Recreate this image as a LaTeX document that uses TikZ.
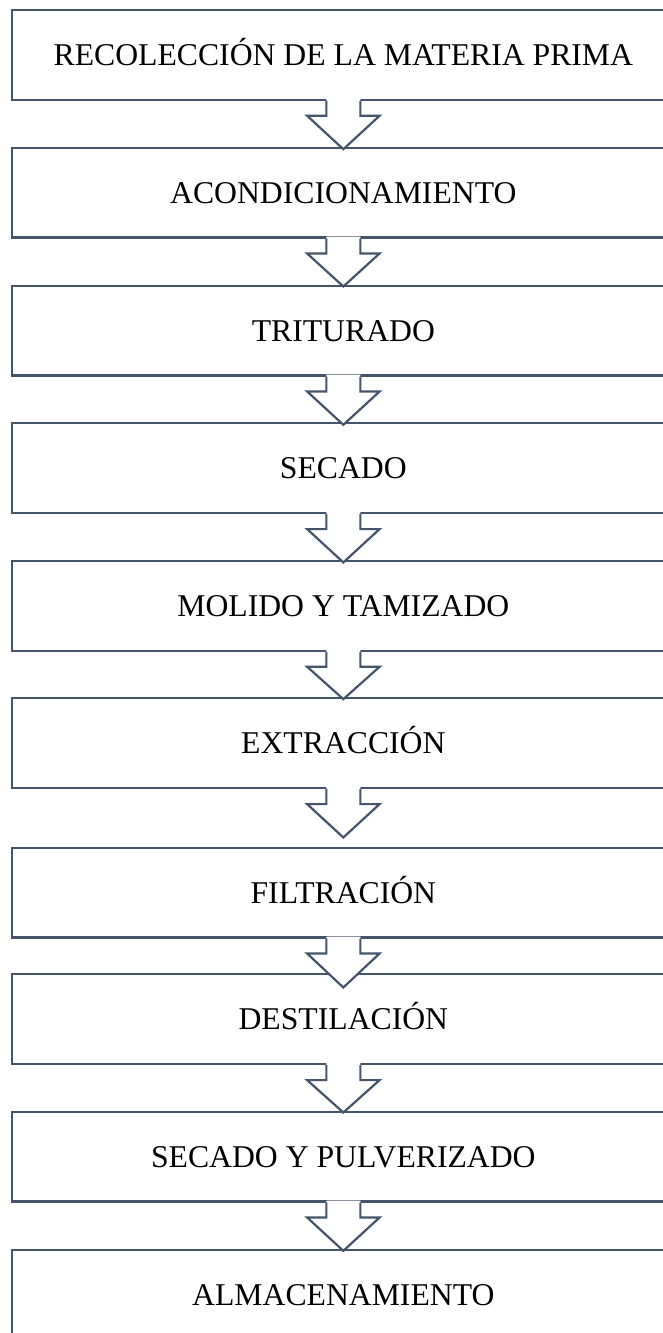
\documentclass[tikz,border=0pt]{standalone}
\usepackage{fontspec}
\setmainfont{Liberation Serif}
\definecolor{edge}{HTML}{44546A}
\begin{document}
\begin{tikzpicture}[x=1pt,y=1pt,
  stepbox/.style={draw=edge, line width=2.2pt, rectangle, minimum width=663.3pt,
    minimum height=89.7pt, inner sep=0pt, text height=21.5pt, text depth=0pt,
    font=\fontsize{31.7}{36}\selectfont, text=black},
  arrowline/.style={draw=edge, line width=2.2pt, line join=miter}]
\useasboundingbox (0,0) rectangle (663,-1333);
\clip (0,0) rectangle (663,-1333);
\foreach \n/\t/\lab in {1/10/{RECOLECCIÓN DE LA MATERIA PRIMA},
  2/147.7/{ACONDICIONAMIENTO},
  3/285.7/{TRITURADO},
  4/423.3/{SECADO},
  5/561/{MOLIDO Y TAMIZADO},
  6/698.3/{EXTRACCIÓN},
  7/847.7/{FILTRACIÓN},
  8/974.3/{DESTILACIÓN},
  9/1111.7/{SECADO Y PULVERIZADO},
  10/1250/{ALMACENAMIENTO}}{
  \node[stepbox] (b\n) at (343.35,-\t-44.85) {\lab};
}
\foreach \n/\len in {1/48.4,2/48,3/48.3,4/48.3,5/47.3,6/48.4,7/49,8/47.4,9/48.3}{
  \fill[white] ([xshift=-17pt,yshift=2pt]b\n.south) -- ++(0,-17) -- ++(-19.2,0)
     -- ([yshift=-\len pt]b\n.south) -- ([xshift=36.2pt,yshift=-15pt]b\n.south)
     -- ++(-19.2,0) -- ([xshift=17pt,yshift=2pt]b\n.south) -- cycle;
  \draw[arrowline] ([xshift=-17pt]b\n.south) -- ++(0,-15) -- ++(-19.2,0)
     -- coordinate[pos=1] (t\n) ([yshift=-\len pt]b\n.south)
     -- ([xshift=36.2pt,yshift=-15pt]b\n.south) -- ++(-19.2,0)
     -- ([xshift=17pt]b\n.south);
}
\end{tikzpicture}
\end{document}
